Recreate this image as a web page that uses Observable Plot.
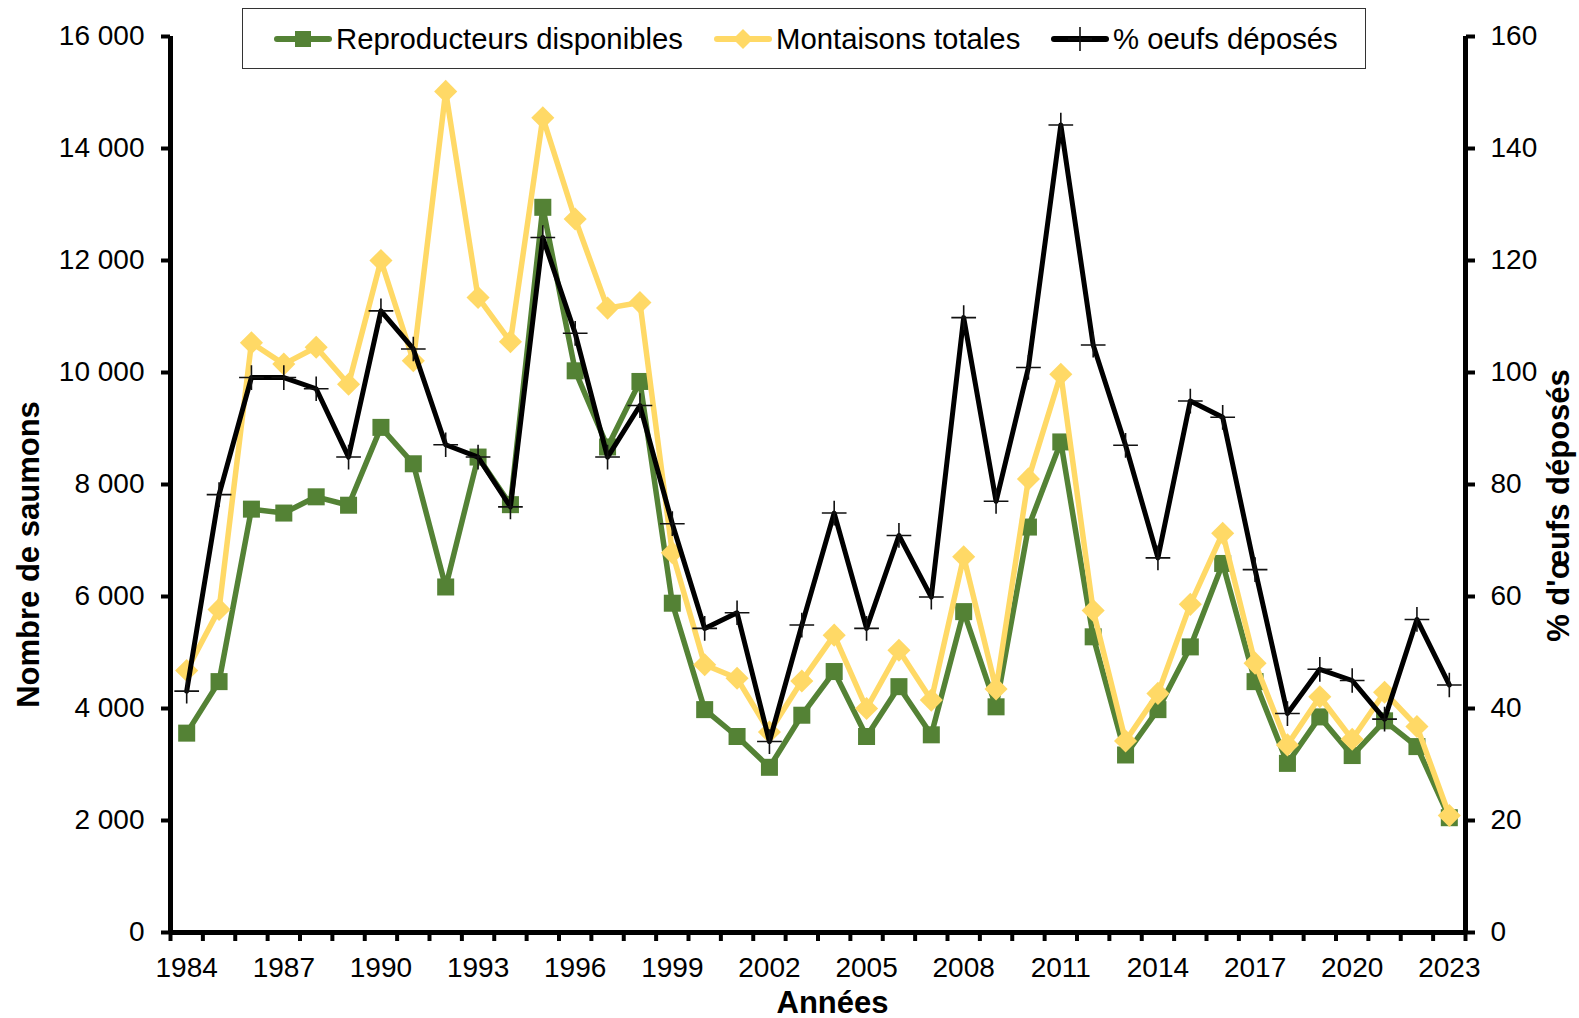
<!DOCTYPE html>
<html>
<head>
<meta charset="utf-8">
<script src="https://cdn.jsdelivr.net/npm/d3@7"></script>
<script src="https://cdn.jsdelivr.net/npm/@observablehq/plot@0.6"></script>
<style>
  html, body { margin: 0; padding: 0; background: #fff; }
  #wrap { position: relative; width: 1579px; height: 1018px; font-family: "Liberation Sans", Arial, sans-serif; }
  #legend { position: absolute; left: 242px; top: 8px; width: 1124px; height: 61px; border: 1.5px solid #333; background: #fff; box-sizing: border-box; }
  .item { position: absolute; top: 0; height: 59px; display: flex; align-items: center; font-size: 29.3px; color: #000; white-space: nowrap; }
  .item svg { margin-right: 4px; }
</style>
</head>
<body>
<div id="wrap"></div>
<script>
// ---- Data ----
const years = [1984,1985,1986,1987,1988,1989,1990,1991,1992,1993,
               1994,1995,1996,1997,1998,1999,2000,2001,2002,2003,
               2004,2005,2006,2007,2008,2009,2010,2011,2012,2013,
               2014,2015,2016,2017,2018,2019,2020,2021,2022,2023];
const reproducteurs = [3560,4480,7560,7490,7780,7630,9020,8370,6170,8490,
                       7640,12950,10030,8670,9840,5880,3980,3500,2950,3880,
                       4660,3500,4390,3530,5730,4030,7240,8760,5280,3170,
                       3980,5100,6590,4480,3020,3850,3160,3780,3320,2050];
const montaisons = [4680,5770,10530,10150,10450,9790,12000,10210,15020,11340,
                    10550,14550,12740,11150,11250,6780,4780,4540,3580,4490,
                    5310,4000,5040,4150,6710,4350,8100,9970,5750,3420,
                    4270,5860,7130,4810,3350,4210,3450,4290,3680,2090];
const oeufsPct = [43.1,78.2,99.1,99.1,97.1,84.9,111.0,104.2,87.1,84.9,
                  76.0,124.1,107.0,84.9,94.1,73.0,54.3,57.1,34.1,54.9,
                  74.9,54.3,70.9,59.9,109.8,77.0,100.9,144.2,104.9,87.0,
                  66.9,94.9,92.0,64.8,39.1,47.0,45.0,38.1,55.9,44.2];
const yearLabels = [1984,1987,1990,1993,1996,1999,2002,2005,2008,2011,2014,2017,2020,2023];
const leftTicks = [0,2000,4000,6000,8000,10000,12000,14000,16000];
const rightTicks = [0,20,40,60,80,100,120,140,160];
const seriesNames = ["Reproducteurs disponibles", "Montaisons totales", "% oeufs déposés"];
const xTitle = "Années";
const yTitleLeft = "Nombre de saumons";
const yTitleRight = "% d'\u0153ufs déposés";

const GREEN = "#548235", YELLOW = "#FFD966", BLACK = "#000000";
const RATIO = leftTicks[leftTicks.length - 1] / rightTicks[rightTicks.length - 1];

const rows = years.map((yr, i) => ({year: yr, rep: reproducteurs[i], mont: montaisons[i], pct: oeufsPct[i]}));
const boundaries = d3.range(years[0] - 0.5, years[years.length - 1] + 1, 1);
const fmtThousands = d => d3.format(",")(d).replace(/,/g, "\u00a0");

const chart = Plot.plot({
  width: 1579,
  height: 1018,
  marginLeft: 170,
  marginRight: 114,
  marginTop: 36,
  marginBottom: 86,
  style: {fontFamily: "'Liberation Sans', Arial, sans-serif", fontSize: "28px", color: "#000", background: "transparent", overflow: "visible"},
  x: {type: "linear", domain: [years[0] - 0.5, years[years.length - 1] + 0.5], label: null},
  y: {domain: [0, leftTicks[leftTicks.length - 1]], label: null},
  marks: [
    Plot.axisX({ticks: boundaries, tickSize: 9, strokeWidth: 4, tickFormat: () => "", label: null}),
    Plot.axisX({ticks: yearLabels, tickSize: 0, tickPadding: 25, tickFormat: d => String(d), label: null}),
    Plot.axisY({ticks: leftTicks, tickSize: 9, strokeWidth: 4, tickPadding: 17, tickFormat: fmtThousands, label: null}),
    Plot.axisY({anchor: "right", ticks: rightTicks.map(v => v * RATIO), tickSize: 9, strokeWidth: 4, tickPadding: 16, tickFormat: d => String(d / RATIO), label: null}),
    Plot.ruleX([years[0] - 0.5, years[years.length - 1] + 0.5], {strokeWidth: 5, stroke: BLACK}),
    Plot.ruleY([0], {strokeWidth: 5, stroke: BLACK}),
    // Reproducteurs disponibles
    Plot.line(rows, {x: "year", y: "rep", stroke: GREEN, strokeWidth: 5.5}),
    Plot.dot(rows, {x: "year", y: "rep", symbol: "square", r: 9.6, fill: GREEN}),
    // Montaisons totales
    Plot.line(rows, {x: "year", y: "mont", stroke: YELLOW, strokeWidth: 5.5}),
    Plot.dot(rows, {x: "year", y: "mont", symbol: "diamond2", r: 10.4, fill: YELLOW}),
    // % oeufs déposés (secondary axis)
    Plot.line(rows, {x: "year", y: d => d.pct * RATIO, stroke: BLACK, strokeWidth: 5}),
    Plot.dot(rows, {x: "year", y: d => d.pct * RATIO, symbol: "plus", r: 8, stroke: "#111", strokeWidth: 1.6, fill: "none"}),
    // axis titles
    Plot.text([yTitleLeft], {text: d => d, frameAnchor: "left", textAnchor: "middle", lineAnchor: "middle", dx: -141, dy: 70, rotate: -90, fontWeight: "bold", fontSize: 31}),
    Plot.text([yTitleRight], {text: d => d, frameAnchor: "right", textAnchor: "middle", lineAnchor: "middle", dx: 94, dy: 21, rotate: -90, fontWeight: "bold", fontSize: 31}),
    Plot.text([xTitle], {text: d => d, frameAnchor: "bottom", textAnchor: "middle", lineAnchor: "middle", dx: 14.5, dy: 71, fontWeight: "bold", fontSize: 31})
  ]
});

const wrap = document.getElementById("wrap");
wrap.appendChild(chart);

// ---- Legend (overlaid box) ----
const legend = document.createElement("div");
legend.id = "legend";
const swatch = (kind) => {
  const ns = "http://www.w3.org/2000/svg";
  const svg = document.createElementNS(ns, "svg");
  svg.setAttribute("width", 58); svg.setAttribute("height", 30);
  const line = document.createElementNS(ns, "line");
  line.setAttribute("x1", 3); line.setAttribute("x2", 55); line.setAttribute("y1", 15); line.setAttribute("y2", 15);
  line.setAttribute("stroke-width", 6); line.setAttribute("stroke-linecap", "round");
  svg.appendChild(line);
  if (kind === 0) {
    line.setAttribute("stroke", GREEN);
    const r = document.createElementNS(ns, "rect");
    r.setAttribute("x", 21); r.setAttribute("y", 7); r.setAttribute("width", 16); r.setAttribute("height", 16); r.setAttribute("fill", GREEN);
    svg.appendChild(r);
  } else if (kind === 1) {
    line.setAttribute("stroke", YELLOW);
    const p = document.createElementNS(ns, "path");
    p.setAttribute("d", "M29,5 L39,15 L29,25 L19,15 Z"); p.setAttribute("fill", YELLOW);
    svg.appendChild(p);
  } else {
    line.setAttribute("stroke", BLACK);
    const p = document.createElementNS(ns, "path");
    p.setAttribute("d", "M17,15 H41 M29,3 V27"); p.setAttribute("stroke", "#111"); p.setAttribute("stroke-width", 1.6);
    svg.appendChild(p);
  }
  return svg;
};
const lefts = [31, 471, 808];
seriesNames.forEach((name, i) => {
  const item = document.createElement("div");
  item.className = "item";
  item.style.left = lefts[i] + "px";
  item.appendChild(swatch(i));
  const t = document.createElement("span");
  t.textContent = name;
  item.appendChild(t);
  legend.appendChild(item);
});
wrap.appendChild(legend);
</script>
</body>
</html>
